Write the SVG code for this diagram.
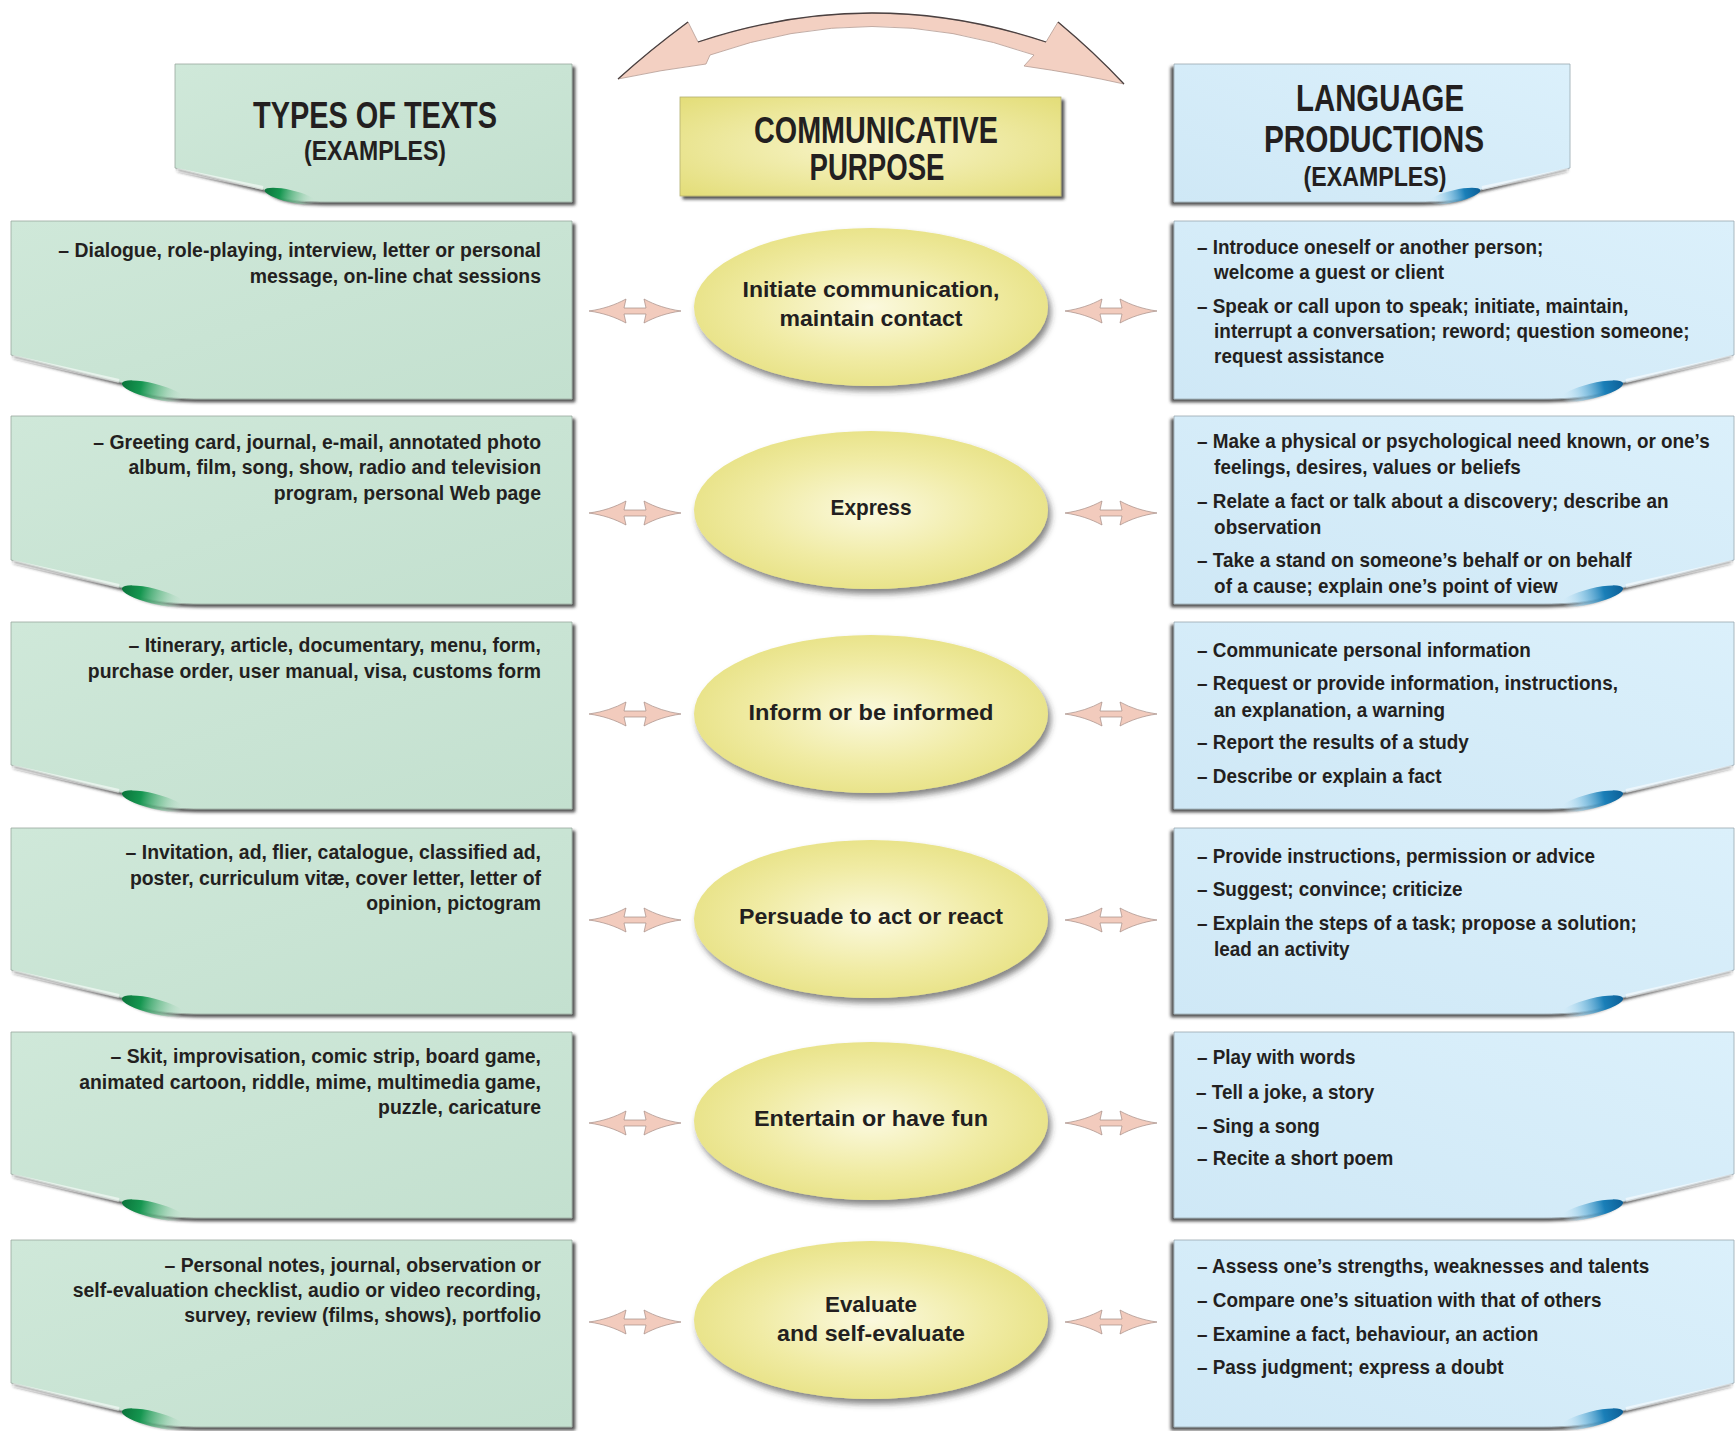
<svg xmlns="http://www.w3.org/2000/svg" xmlns:xlink="http://www.w3.org/1999/xlink" width="1736" height="1431" viewBox="0 0 1736 1431">
<defs>
<style>
.t{font-family:"Liberation Sans",Arial,sans-serif;font-weight:bold;fill:#231f20}
.b{font-size:21px}
.e{font-size:22px}
.h{font-size:36px}
.hs{font-size:27px}
.gp{fill:url(#gGreen);stroke:#9aa89f;stroke-width:0.8}
.bp{fill:url(#gBlue);stroke:#9aa8b0;stroke-width:0.8}
.gb{fill:url(#gBlobG)}
.bb{fill:url(#gBlobB)}
.hl{stroke:#ffffff;stroke-opacity:0.55;stroke-width:4;fill:none}
.ell{fill:url(#gYel);filter:url(#esh)}
.arr{fill:#f2cbbd;stroke:#a58c85;stroke-width:0.7}
</style>
<linearGradient id="gGreen" x1="0" y1="0" x2="1" y2="1">
<stop offset="0" stop-color="#cfe8d9"/><stop offset="1" stop-color="#c3e0cf"/>
</linearGradient>
<linearGradient id="gBlue" x1="0" y1="0" x2="1" y2="1">
<stop offset="0" stop-color="#dbf0fb"/><stop offset="1" stop-color="#cfe8f6"/>
</linearGradient>
<radialGradient id="gYel" cx="0.5" cy="0.5" r="0.6">
<stop offset="0" stop-color="#fbf9de"/><stop offset="0.55" stop-color="#f0eba3"/><stop offset="1" stop-color="#e5df7c"/>
</radialGradient>
<radialGradient id="gYelBox" cx="0.5" cy="0.5" r="0.7">
<stop offset="0" stop-color="#f8f5cc"/><stop offset="0.6" stop-color="#ece79a"/><stop offset="1" stop-color="#e3dd78"/>
</radialGradient>
<linearGradient id="gBlobG" x1="0" y1="0" x2="1" y2="0">
<stop offset="0" stop-color="#0a743a"/><stop offset="0.3" stop-color="#159650"/><stop offset="0.65" stop-color="#7cc49a" stop-opacity="0.7"/><stop offset="1" stop-color="#c8e4d4" stop-opacity="0"/>
</linearGradient>
<linearGradient id="gBlobB" x1="0" y1="0" x2="1" y2="0">
<stop offset="0" stop-color="#0c5f97"/><stop offset="0.3" stop-color="#1a7fb8"/><stop offset="0.65" stop-color="#86c3e3" stop-opacity="0.7"/><stop offset="1" stop-color="#d6eefa" stop-opacity="0"/>
</linearGradient>
<filter id="sh" x="-5%" y="-10%" width="110%" height="125%">
<feDropShadow dx="3" dy="3" stdDeviation="1.6" flood-color="#2a2a2a" flood-opacity="0.8"/>
</filter>
<filter id="esh" x="-10%" y="-15%" width="125%" height="140%">
<feDropShadow dx="3" dy="5" stdDeviation="3" flood-color="#333333" flood-opacity="0.6"/>
</filter>
<path id="dbl" class="arr" d="M-46,0 C-32,-2 -20,-6 -9,-12 L-11,-3 H11 L9,-12 C20,-6 32,-2 46,0 C32,2 20,6 9,12 L11,3 H-11 L-9,12 C-20,6 -32,2 -46,0 Z"/>
</defs>

<rect width="1736" height="1431" fill="#ffffff"/>

<!-- connectors -->
<g id="connectors">
<path d="M618,79 Q650,50 688,22 L698,42 Q872,-16 1046,42 L1058,22 Q1094,52 1124,84 Q1080,74 1024,66 L1034,55 Q872,-2 710,55 L706,64 Q660,70 618,79 Z" fill="#f3d0c2" stroke="#b49a92" stroke-width="0.8"/>
<path d="M618,79 Q650,50 688,22 M698,42 Q872,-16 1046,42 M1058,22 Q1094,52 1124,84" fill="none" stroke="#4a4040" stroke-width="1.3"/>
<use xlink:href="#dbl" transform="translate(635,311)"/>
<use xlink:href="#dbl" transform="translate(1111,311)"/>
<use xlink:href="#dbl" transform="translate(635,513)"/>
<use xlink:href="#dbl" transform="translate(1111,513)"/>
<use xlink:href="#dbl" transform="translate(635,714)"/>
<use xlink:href="#dbl" transform="translate(1111,714)"/>
<use xlink:href="#dbl" transform="translate(635,920)"/>
<use xlink:href="#dbl" transform="translate(1111,920)"/>
<use xlink:href="#dbl" transform="translate(635,1123)"/>
<use xlink:href="#dbl" transform="translate(1111,1123)"/>
<use xlink:href="#dbl" transform="translate(635,1322)"/>
<use xlink:href="#dbl" transform="translate(1111,1322)"/>
</g>

<!-- headers -->
<g id="header-types">
<g transform="translate(175,202)">
<path class="gp" filter="url(#sh)" d="M0,-138 H397 V0 H150 C120,0 100,-3 90,-12 L0,-34 Z"/>
<path class="hl" d="M2,-32 L88,-14"/>
<ellipse class="gb" cx="115" cy="-6" rx="26" ry="6" transform="rotate(13 115 -6)"/>
</g>
<text class="t h" x="375" y="128" text-anchor="middle" textLength="244" lengthAdjust="spacingAndGlyphs">TYPES OF TEXTS</text>
<text class="t hs" x="375" y="160" text-anchor="middle" textLength="142" lengthAdjust="spacingAndGlyphs">(EXAMPLES)</text>
</g>

<g id="header-purpose">
<rect x="680" y="97" width="381" height="99" fill="url(#gYelBox)" stroke="#b5b070" stroke-width="0.8" filter="url(#sh)"/>
<text class="t h" x="876" y="143" text-anchor="middle" textLength="244" lengthAdjust="spacingAndGlyphs">COMMUNICATIVE</text>
<text class="t h" x="877" y="180" text-anchor="middle" textLength="135" lengthAdjust="spacingAndGlyphs">PURPOSE</text>
</g>

<g id="header-productions">
<g transform="translate(1570,202) scale(-1,1)">
<path class="bp" filter="url(#sh)" d="M0,-138 H396 V0 H150 C120,0 100,-3 90,-12 L0,-34 Z"/>
<path class="hl" d="M2,-32 L88,-14"/>
<ellipse class="bb" cx="115" cy="-6" rx="26" ry="6" transform="rotate(13 115 -6)"/>
</g>
<text class="t h" x="1380" y="111" text-anchor="middle" textLength="168" lengthAdjust="spacingAndGlyphs">LANGUAGE</text>
<text class="t h" x="1374" y="152" text-anchor="middle" textLength="220" lengthAdjust="spacingAndGlyphs">PRODUCTIONS</text>
<text class="t hs" x="1375" y="186" text-anchor="middle" textLength="143" lengthAdjust="spacingAndGlyphs">(EXAMPLES)</text>
</g>

<!-- row 1 -->
<g id="types-1">
<g transform="translate(11,399)">
<path class="gp" filter="url(#sh)" d="M0,-178 H561 V0 H190 C150,0 126,-5 112,-16 L0,-44 Z"/>
<path class="hl" d="M2,-42 L108,-18"/>
<ellipse class="gb" cx="142" cy="-8" rx="32" ry="7.5" transform="rotate(14 142 -8)"/>
</g>
<text class="t b" text-anchor="end" transform="translate(541,0) scale(0.925,1)"><tspan x="0" y="257">– Dialogue, role-playing, interview, letter or personal</tspan><tspan x="0" y="283">message, on-line chat sessions</tspan></text>
</g>
<g id="purpose-1">
<ellipse class="ell" cx="871" cy="307" rx="177" ry="79"/>
<text class="t e" x="871" y="297" text-anchor="middle" textLength="257" lengthAdjust="spacingAndGlyphs">Initiate communication,</text>
<text class="t e" x="871" y="326" text-anchor="middle" textLength="183" lengthAdjust="spacingAndGlyphs">maintain contact</text>
</g>
<g id="productions-1">
<g transform="translate(1734,399) scale(-1,1)">
<path class="bp" filter="url(#sh)" d="M0,-178 H560 V0 H190 C150,0 126,-5 112,-16 L0,-44 Z"/>
<path class="hl" d="M2,-42 L108,-18"/>
<ellipse class="bb" cx="142" cy="-8" rx="32" ry="7.5" transform="rotate(14 142 -8)"/>
</g>
<text class="t b" transform="translate(1197,0) scale(0.9,1)"><tspan x="0" y="254">– Introduce oneself or another person;</tspan><tspan x="19" y="279">welcome a guest or client</tspan><tspan x="0" y="313">– Speak or call upon to speak; initiate, maintain,</tspan><tspan x="19" y="338">interrupt a conversation; reword; question someone;</tspan><tspan x="19" y="363">request assistance</tspan></text>
</g>

<!-- row 2 -->
<g id="types-2">
<g transform="translate(11,604)">
<path class="gp" filter="url(#sh)" d="M0,-188 H561 V0 H190 C150,0 126,-5 112,-16 L0,-44 Z"/>
<path class="hl" d="M2,-42 L108,-18"/>
<ellipse class="gb" cx="142" cy="-8" rx="32" ry="7.5" transform="rotate(14 142 -8)"/>
</g>
<text class="t b" text-anchor="end" transform="translate(541,0) scale(0.925,1)"><tspan x="0" y="449">– Greeting card, journal, e-mail, annotated photo</tspan><tspan x="0" y="474">album, film, song, show, radio and television</tspan><tspan x="0" y="500">program, personal Web page</tspan></text>
</g>
<g id="purpose-2">
<ellipse class="ell" cx="871" cy="510" rx="177" ry="79"/>
<text class="t e" x="871" y="515" text-anchor="middle" textLength="81" lengthAdjust="spacingAndGlyphs">Express</text>
</g>
<g id="productions-2">
<g transform="translate(1734,604) scale(-1,1)">
<path class="bp" filter="url(#sh)" d="M0,-188 H560 V0 H190 C150,0 126,-5 112,-16 L0,-44 Z"/>
<path class="hl" d="M2,-42 L108,-18"/>
<ellipse class="bb" cx="142" cy="-8" rx="32" ry="7.5" transform="rotate(14 142 -8)"/>
</g>
<text class="t b" transform="translate(1197,0) scale(0.9,1)"><tspan x="0" y="448">– Make a physical or psychological need known, or one’s</tspan><tspan x="19" y="474">feelings, desires, values or beliefs</tspan><tspan x="0" y="508">– Relate a fact or talk about a discovery; describe an</tspan><tspan x="19" y="534">observation</tspan><tspan x="0" y="567">– Take a stand on someone’s behalf or on behalf</tspan><tspan x="19" y="593">of a cause; explain one’s point of view</tspan></text>
</g>

<!-- row 3 -->
<g id="types-3">
<g transform="translate(11,809)">
<path class="gp" filter="url(#sh)" d="M0,-187 H561 V0 H190 C150,0 126,-5 112,-16 L0,-44 Z"/>
<path class="hl" d="M2,-42 L108,-18"/>
<ellipse class="gb" cx="142" cy="-8" rx="32" ry="7.5" transform="rotate(14 142 -8)"/>
</g>
<text class="t b" text-anchor="end" transform="translate(541,0) scale(0.925,1)"><tspan x="0" y="652">– Itinerary, article, documentary, menu, form,</tspan><tspan x="0" y="678">purchase order, user manual, visa, customs form</tspan></text>
</g>
<g id="purpose-3">
<ellipse class="ell" cx="871" cy="714" rx="177" ry="79"/>
<text class="t e" x="871" y="720" text-anchor="middle" textLength="245" lengthAdjust="spacingAndGlyphs">Inform or be informed</text>
</g>
<g id="productions-3">
<g transform="translate(1734,809) scale(-1,1)">
<path class="bp" filter="url(#sh)" d="M0,-187 H560 V0 H190 C150,0 126,-5 112,-16 L0,-44 Z"/>
<path class="hl" d="M2,-42 L108,-18"/>
<ellipse class="bb" cx="142" cy="-8" rx="32" ry="7.5" transform="rotate(14 142 -8)"/>
</g>
<text class="t b" transform="translate(1197,0) scale(0.9,1)"><tspan x="0" y="657">– Communicate personal information</tspan><tspan x="0" y="690">– Request or provide information, instructions,</tspan><tspan x="19" y="717">an explanation, a warning</tspan><tspan x="0" y="749">– Report the results of a study</tspan><tspan x="0" y="783">– Describe or explain a fact</tspan></text>
</g>

<!-- row 4 -->
<g id="types-4">
<g transform="translate(11,1014)">
<path class="gp" filter="url(#sh)" d="M0,-186 H561 V0 H190 C150,0 126,-5 112,-16 L0,-44 Z"/>
<path class="hl" d="M2,-42 L108,-18"/>
<ellipse class="gb" cx="142" cy="-8" rx="32" ry="7.5" transform="rotate(14 142 -8)"/>
</g>
<text class="t b" text-anchor="end" transform="translate(541,0) scale(0.925,1)"><tspan x="0" y="859">– Invitation, ad, flier, catalogue, classified ad,</tspan><tspan x="0" y="885">poster, curriculum vitæ, cover letter, letter of</tspan><tspan x="0" y="910">opinion, pictogram</tspan></text>
</g>
<g id="purpose-4">
<ellipse class="ell" cx="871" cy="919" rx="177" ry="79"/>
<text class="t e" x="871" y="924" text-anchor="middle" textLength="264" lengthAdjust="spacingAndGlyphs">Persuade to act or react</text>
</g>
<g id="productions-4">
<g transform="translate(1734,1014) scale(-1,1)">
<path class="bp" filter="url(#sh)" d="M0,-186 H560 V0 H190 C150,0 126,-5 112,-16 L0,-44 Z"/>
<path class="hl" d="M2,-42 L108,-18"/>
<ellipse class="bb" cx="142" cy="-8" rx="32" ry="7.5" transform="rotate(14 142 -8)"/>
</g>
<text class="t b" transform="translate(1197,0) scale(0.9,1)"><tspan x="0" y="863">– Provide instructions, permission or advice</tspan><tspan x="0" y="896">– Suggest; convince; criticize</tspan><tspan x="0" y="930">– Explain the steps of a task; propose a solution;</tspan><tspan x="19" y="956">lead an activity</tspan></text>
</g>

<!-- row 5 -->
<g id="types-5">
<g transform="translate(11,1218)">
<path class="gp" filter="url(#sh)" d="M0,-186 H561 V0 H190 C150,0 126,-5 112,-16 L0,-44 Z"/>
<path class="hl" d="M2,-42 L108,-18"/>
<ellipse class="gb" cx="142" cy="-8" rx="32" ry="7.5" transform="rotate(14 142 -8)"/>
</g>
<text class="t b" text-anchor="end" transform="translate(541,0) scale(0.925,1)"><tspan x="0" y="1063">– Skit, improvisation, comic strip, board game,</tspan><tspan x="0" y="1089">animated cartoon, riddle, mime, multimedia game,</tspan><tspan x="0" y="1114">puzzle, caricature</tspan></text>
</g>
<g id="purpose-5">
<ellipse class="ell" cx="871" cy="1121" rx="177" ry="79"/>
<text class="t e" x="871" y="1126" text-anchor="middle" textLength="234" lengthAdjust="spacingAndGlyphs">Entertain or have fun</text>
</g>
<g id="productions-5">
<g transform="translate(1734,1218) scale(-1,1)">
<path class="bp" filter="url(#sh)" d="M0,-186 H560 V0 H190 C150,0 126,-5 112,-16 L0,-44 Z"/>
<path class="hl" d="M2,-42 L108,-18"/>
<ellipse class="bb" cx="142" cy="-8" rx="32" ry="7.5" transform="rotate(14 142 -8)"/>
</g>
<text class="t b" transform="translate(1197,0) scale(0.9,1)"><tspan x="0" y="1064">– Play with words</tspan><tspan x="-1" y="1099">– Tell a joke, a story</tspan><tspan x="0" y="1133">– Sing a song</tspan><tspan x="0" y="1165">– Recite a short poem</tspan></text>
</g>

<!-- row 6 -->
<g id="types-6">
<g transform="translate(11,1427)">
<path class="gp" filter="url(#sh)" d="M0,-187 H561 V0 H190 C150,0 126,-5 112,-16 L0,-44 Z"/>
<path class="hl" d="M2,-42 L108,-18"/>
<ellipse class="gb" cx="142" cy="-8" rx="32" ry="7.5" transform="rotate(14 142 -8)"/>
</g>
<text class="t b" text-anchor="end" transform="translate(541,0) scale(0.925,1)"><tspan x="0" y="1272">– Personal notes, journal, observation or</tspan><tspan x="0" y="1297">self-evaluation checklist, audio or video recording,</tspan><tspan x="0" y="1322">survey, review (films, shows), portfolio</tspan></text>
</g>
<g id="purpose-6">
<ellipse class="ell" cx="871" cy="1320" rx="177" ry="79"/>
<text class="t e" x="871" y="1312" text-anchor="middle" textLength="92" lengthAdjust="spacingAndGlyphs">Evaluate</text>
<text class="t e" x="871" y="1341" text-anchor="middle" textLength="188" lengthAdjust="spacingAndGlyphs">and self-evaluate</text>
</g>
<g id="productions-6">
<g transform="translate(1734,1427) scale(-1,1)">
<path class="bp" filter="url(#sh)" d="M0,-187 H560 V0 H190 C150,0 126,-5 112,-16 L0,-44 Z"/>
<path class="hl" d="M2,-42 L108,-18"/>
<ellipse class="bb" cx="142" cy="-8" rx="32" ry="7.5" transform="rotate(14 142 -8)"/>
</g>
<text class="t b" transform="translate(1197,0) scale(0.9,1)"><tspan x="0" y="1273">– Assess one’s strengths, weaknesses and talents</tspan><tspan x="0" y="1307">– Compare one’s situation with that of others</tspan><tspan x="0" y="1341">– Examine a fact, behaviour, an action</tspan><tspan x="0" y="1374">– Pass judgment; express a doubt</tspan></text>
</g>
</svg>
